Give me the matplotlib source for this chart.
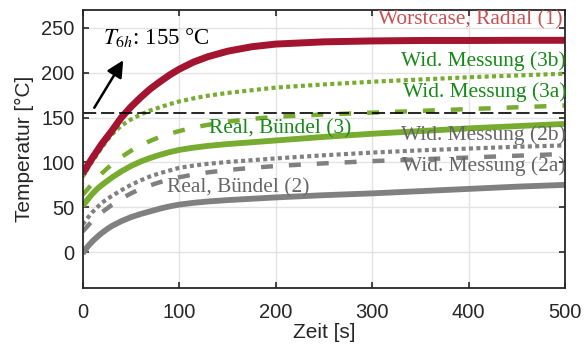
import matplotlib
matplotlib.use("Agg")
import matplotlib.pyplot as plt

plt.rcParams['font.family'] = ['Liberation Sans', 'DejaVu Sans']
plt.rcParams['mathtext.fontset'] = 'stix'
plt.rcParams['lines.scale_dashes'] = False

# ----------------------------
# Data
# ----------------------------
t = [0, 5, 10, 15, 20, 25, 30, 40, 50, 60, 70, 80, 90, 100,
     115, 130, 150, 175, 200, 250, 300, 350, 400, 450, 500]

radial_1 = [87.5, 96.5, 105, 113, 121, 128, 135, 150, 162, 172.5, 182, 190, 197.5, 204,
            212, 218, 224, 229, 232, 234.5, 235.5, 236, 236, 236.2, 236.2]
mess_3b = [84, 93, 101.5, 109, 117, 124.5, 131, 141, 148, 153.5, 158, 161.5, 165, 168,
           171.5, 174.5, 177.5, 180.5, 183.5, 187, 190, 192.5, 195, 197, 199]
mess_3a = [64, 70, 76.5, 82.5, 88, 93, 97.5, 106, 113, 119, 124, 128.5, 132, 135,
           139, 142, 145.5, 148.5, 151, 153.5, 155.5, 157.5, 159.5, 161.5, 163.5]
buendel_3 = [51.5, 58.5, 65, 70.5, 75, 79, 83, 90, 96, 101, 105, 108.5, 111.5, 114,
             116.5, 118.5, 120.5, 122.5, 124.5, 128.5, 132, 135, 138, 140.5, 143]
mess_2b = [31, 38, 44.5, 50, 55, 59, 62.5, 69, 75, 80, 84.5, 88, 91, 94,
           96.5, 98.5, 100.5, 102.5, 104.5, 108, 111, 113.5, 115.5, 117.5, 119]
mess_2a = [23, 29, 35, 40, 44.5, 48.5, 52.5, 59.5, 65.5, 70.5, 74.5, 78, 81, 83.5,
           86.5, 89, 91.5, 94, 96, 99, 101.5, 103.5, 105.5, 107.5, 109.5]
buendel_2 = [-1.5, 6, 12, 17, 21.5, 25.5, 29, 34.5, 39, 42.5, 45.5, 48.5, 51, 53,
             55, 56.5, 58, 59.5, 61, 63.5, 65.5, 68, 70.5, 73, 75]

t_limit = 155

RED = '#A2142F'
GREEN = '#77AC30'
GRAY = '#808080'
GREEN_TXT = '#168A16'
GRAY_TXT = '#666666'
RED_TXT = '#C9504F'

DASH = (0, (8.6, 11.5))
DOT = (0, (2.9, 2.4))

fig = plt.figure(figsize=(5.85, 3.51), dpi=100)
ax = fig.add_axes([0.1414, 0.1795, 0.8246, 0.792])

ax.plot(t, buendel_2, color=GRAY, lw=4.2, solid_capstyle='butt')
ax.plot(t, mess_2a, color=GRAY, lw=3.2, linestyle=DASH, dash_capstyle='butt')
ax.plot(t, mess_2b, color=GRAY, lw=3.0, linestyle=DOT, dash_capstyle='butt')
ax.plot(t, buendel_3, color=GREEN, lw=4.2, solid_capstyle='butt')
ax.plot(t, mess_3a, color=GREEN, lw=3.2, linestyle=DASH, dash_capstyle='butt')
ax.plot(t, mess_3b, color=GREEN, lw=3.0, linestyle=DOT, dash_capstyle='butt')
ax.plot(t, radial_1, color=RED, lw=5.0, solid_capstyle='butt')
ax.axhline(t_limit, color='black', lw=1.2, linestyle=(0, (9.5, 3.5)))

ax.annotate('', xy=(42, 214), xytext=(12, 161),
            arrowprops=dict(arrowstyle='-|>', color='black', lw=1.8,
                            mutation_scale=25, shrinkA=0, shrinkB=0))
ax.text(21, 239, r'$T_{6h}$: 155 °C', fontsize=16.5, family='Liberation Serif',
        ha='left', va='center')

serif = 'Liberation Serif'
fs = 15.4
ax.text(497, 259, 'Worstcase, Radial (1)', color=RED_TXT, fontsize=fs,
        family=serif, ha='right', va='center')
ax.text(501, 213, 'Wid. Messung (3b)', color=GREEN_TXT, fontsize=fs,
        family=serif, ha='right', va='center')
ax.text(501, 178.5, 'Wid. Messung (3a)', color=GREEN_TXT, fontsize=fs,
        family=serif, ha='right', va='center')
ax.text(204.5, 137, 'Real, Bündel (3)', color=GREEN_TXT, fontsize=fs,
        family=serif, ha='center', va='center')
ax.text(501, 130, 'Wid. Messung (2b)', color=GRAY_TXT, fontsize=fs,
        family=serif, ha='right', va='center')
ax.text(501, 95.5, 'Wid. Messung (2a)', color=GRAY_TXT, fontsize=fs,
        family=serif, ha='right', va='center')
ax.text(161, 71.5, 'Real, Bündel (2)', color=GRAY_TXT, fontsize=fs,
        family=serif, ha='center', va='center')

ax.set_xlim(0, 500)
ax.set_ylim(-40, 270)
ax.set_xticks([0, 100, 200, 300, 400, 500])
ax.set_yticks([0, 50, 100, 150, 200, 250])
ax.grid(True, color='#E3E3E3', lw=1.0)
ax.set_axisbelow(True)

ax.tick_params(direction='in', length=4, width=1.2, top=True, right=True,
               labelsize=14.5, colors='#262626')
ax.tick_params(axis='x', pad=10.5)
ax.tick_params(axis='y', pad=6)
for s in ax.spines.values():
    s.set_linewidth(1.3)
    s.set_color('#262626')

ax.set_xlabel('Zeit [s]', fontsize=15, color='#262626', labelpad=1)
ax.set_ylabel('Temperatur [°C]', fontsize=15, color='#262626', labelpad=5)

fig.savefig('out.png', dpi=100)
plt.close(fig)
